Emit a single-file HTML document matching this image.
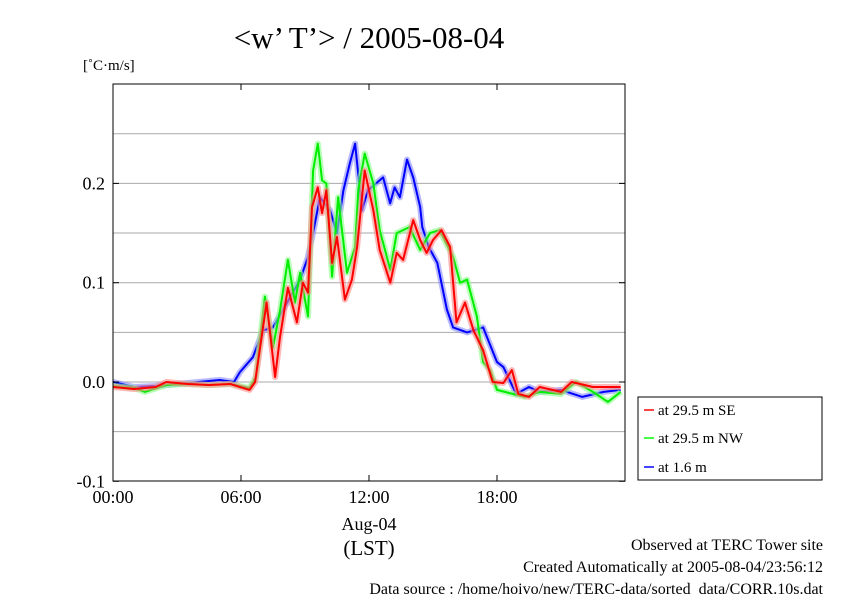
<!DOCTYPE html>
<html><head><meta charset="utf-8"><style>
body{margin:0;background:#fff;}
svg text{font-family:"Liberation Serif",serif;fill:#000;}
</style></head><body>
<svg width="842" height="595" viewBox="0 0 842 595">
<text x="369" y="48" font-size="31" text-anchor="middle">&lt;w’ T’&gt; / 2005-08-04</text>
<text x="83" y="70" font-size="15">[˚C·m/s]</text>
<g id="grid"></g>
<g id="series"></g>
<rect x="113" y="84" width="512" height="397" fill="none" stroke="#000" stroke-width="1"/>
<g id="axes"></g>
<text x="369" y="530" font-size="18" text-anchor="middle">Aug-04</text>
<text x="369" y="555" font-size="21" text-anchor="middle">(LST)</text>
<g>
<rect x="638" y="397" width="184" height="83" fill="#fff" stroke="#000"/>
<line x1="644" y1="410" x2="654" y2="410" stroke="#f44" stroke-width="2"/>
<text x="658" y="415" font-size="15">at 29.5 m SE</text>
<line x1="644" y1="438" x2="654" y2="438" stroke="#4f4" stroke-width="2"/>
<text x="658" y="443" font-size="15">at 29.5 m NW</text>
<line x1="644" y1="467" x2="654" y2="467" stroke="#44f" stroke-width="2"/>
<text x="658" y="472" font-size="15">at 1.6 m</text>
</g>
<text x="823" y="550" font-size="16" text-anchor="end">Observed at TERC Tower site</text>
<text x="823" y="572" font-size="16" text-anchor="end">Created Automatically at 2005-08-04/23:56:12</text>
<text x="823" y="594" font-size="16" text-anchor="end">Data source : /home/hoivo/new/TERC-data/sorted_data/CORR.10s.dat</text>
</svg>
<script>
const yTicks=[-0.1,0.0,0.1,0.2];
const yTickLabels=["-0.1","0.0","0.1","0.2"];
const xTicks=[0,6,12,18];
const xTickLabels=["00:00","06:00","12:00","18:00"];
const blueT=[0,1,2,3,4,5,5.67,5.95,6.56,7.03,7.5,8.16,8.77,9.14,9.47,9.7,10.17,10.5,10.8,11.1,11.35,11.67,11.95,12.66,12.99,13.2,13.45,13.78,14.07,14.4,14.5,14.8,15.2,15.65,15.94,16.6,17.35,18.0,18.3,18.9,19.5,20,21,22,23,23.8];
const blueV=[0,-0.005,-0.004,-0.002,0,0.002,0,0.01,0.025,0.052,0.055,0.08,0.103,0.126,0.16,0.186,0.173,0.15,0.193,0.22,0.24,0.173,0.193,0.206,0.18,0.196,0.186,0.224,0.206,0.176,0.156,0.136,0.12,0.073,0.055,0.05,0.055,0.02,0.015,-0.012,-0.005,-0.01,-0.008,-0.015,-0.01,-0.008];
const redT=[0,1,2,2.5,3.5,4.5,5.5,6.4,6.66,7.2,7.6,7.83,8.2,8.62,8.9,9.14,9.33,9.6,9.8,10.0,10.27,10.5,10.87,11.2,11.44,11.8,12.2,12.5,13.0,13.3,13.6,14.07,14.4,14.7,15.0,15.4,15.8,16.1,16.5,16.9,17.35,17.8,18.3,18.7,19,19.5,20,21,21.5,22.5,23.8];
const redV=[-0.005,-0.007,-0.005,0,-0.002,-0.003,-0.002,-0.008,0,0.08,0.005,0.045,0.095,0.06,0.1,0.09,0.176,0.196,0.17,0.193,0.12,0.146,0.083,0.103,0.136,0.213,0.173,0.133,0.1,0.13,0.123,0.163,0.143,0.13,0.143,0.153,0.136,0.06,0.08,0.052,0.032,0,-0.001,0.012,-0.012,-0.015,-0.005,-0.01,0,-0.005,-0.005];
const greenT=[0,1,1.5,2.5,3.5,4.5,5.5,6.4,6.7,7.12,7.5,7.83,8.2,8.53,8.77,9.14,9.38,9.6,9.8,10.0,10.27,10.55,10.97,11.35,11.5,11.8,12.2,12.5,13.0,13.3,13.9,14.4,14.86,15.3,15.94,16.27,16.6,17.06,17.35,17.67,18,19.3,20,21,21.7,22.5,23.2,23.8];
const greenV=[-0.004,-0.006,-0.01,-0.003,-0.002,-0.003,-0.002,-0.006,0.005,0.086,0.035,0.072,0.123,0.08,0.11,0.066,0.213,0.24,0.203,0.2,0.106,0.186,0.11,0.136,0.193,0.23,0.2,0.153,0.113,0.15,0.156,0.133,0.15,0.153,0.126,0.1,0.103,0.066,0.02,0.012,-0.008,-0.015,-0.01,-0.012,0,-0.01,-0.02,-0.01];
const ns="http://www.w3.org/2000/svg";
const X=h=>113+h*512/24;
const Y=v=>382-v*993;
function mk(tag,attrs,parent){const e=document.createElementNS(ns,tag);for(const k in attrs)e.setAttribute(k,attrs[k]);parent.appendChild(e);return e;}
const grid=document.getElementById('grid'),axes=document.getElementById('axes'),ser=document.getElementById('series');
for(let v=-0.05;v<0.3;v+=0.05){
  const g=mk('line',{x1:113,x2:625,y1:Y(v),y2:Y(v),stroke:'#aaa','stroke-width':1},grid);
  
  
}
yTicks.forEach((v,i)=>{
  const t=mk('text',{x:105,y:Y(v)+6,'font-size':18,'text-anchor':'end'},axes);t.textContent=yTickLabels[i];
  
  
  mk('line',{x1:113,x2:119,y1:Y(v),y2:Y(v),stroke:'#000'},axes);
  mk('line',{x1:619,x2:625,y1:Y(v),y2:Y(v),stroke:'#000'},axes);
});
xTicks.forEach((h,i)=>{
  const t=mk('text',{x:X(h),y:503,'font-size':18,'text-anchor':'middle'},axes);t.textContent=xTickLabels[i];
  
  
  mk('line',{x1:X(h),x2:X(h),y1:481,y2:475,stroke:'#000'},axes);
  mk('line',{x1:X(h),x2:X(h),y1:84,y2:90,stroke:'#000'},axes);
});
function draw(T,V,band,col,name){
  const pts=T.map((t,i)=>X(t).toFixed(1)+','+Y(V[i]).toFixed(1)).join(' ');
  const b=mk('polyline',{points:pts,fill:'none',stroke:band,'stroke-width':6,'stroke-linejoin':'round','stroke-opacity':0.6},ser);
  
  
  const l=mk('polyline',{points:pts,fill:'none',stroke:col,'stroke-width':2,'stroke-linejoin':'round'},ser);
  
  
}
draw(blueT,blueV,'#88f','#00f','series-1-6m');
draw(greenT,greenV,'#8f8','#0e0','series-29-5m-nw');
draw(redT,redV,'#f88','#f00','series-29-5m-se');
</script>
</body></html>
